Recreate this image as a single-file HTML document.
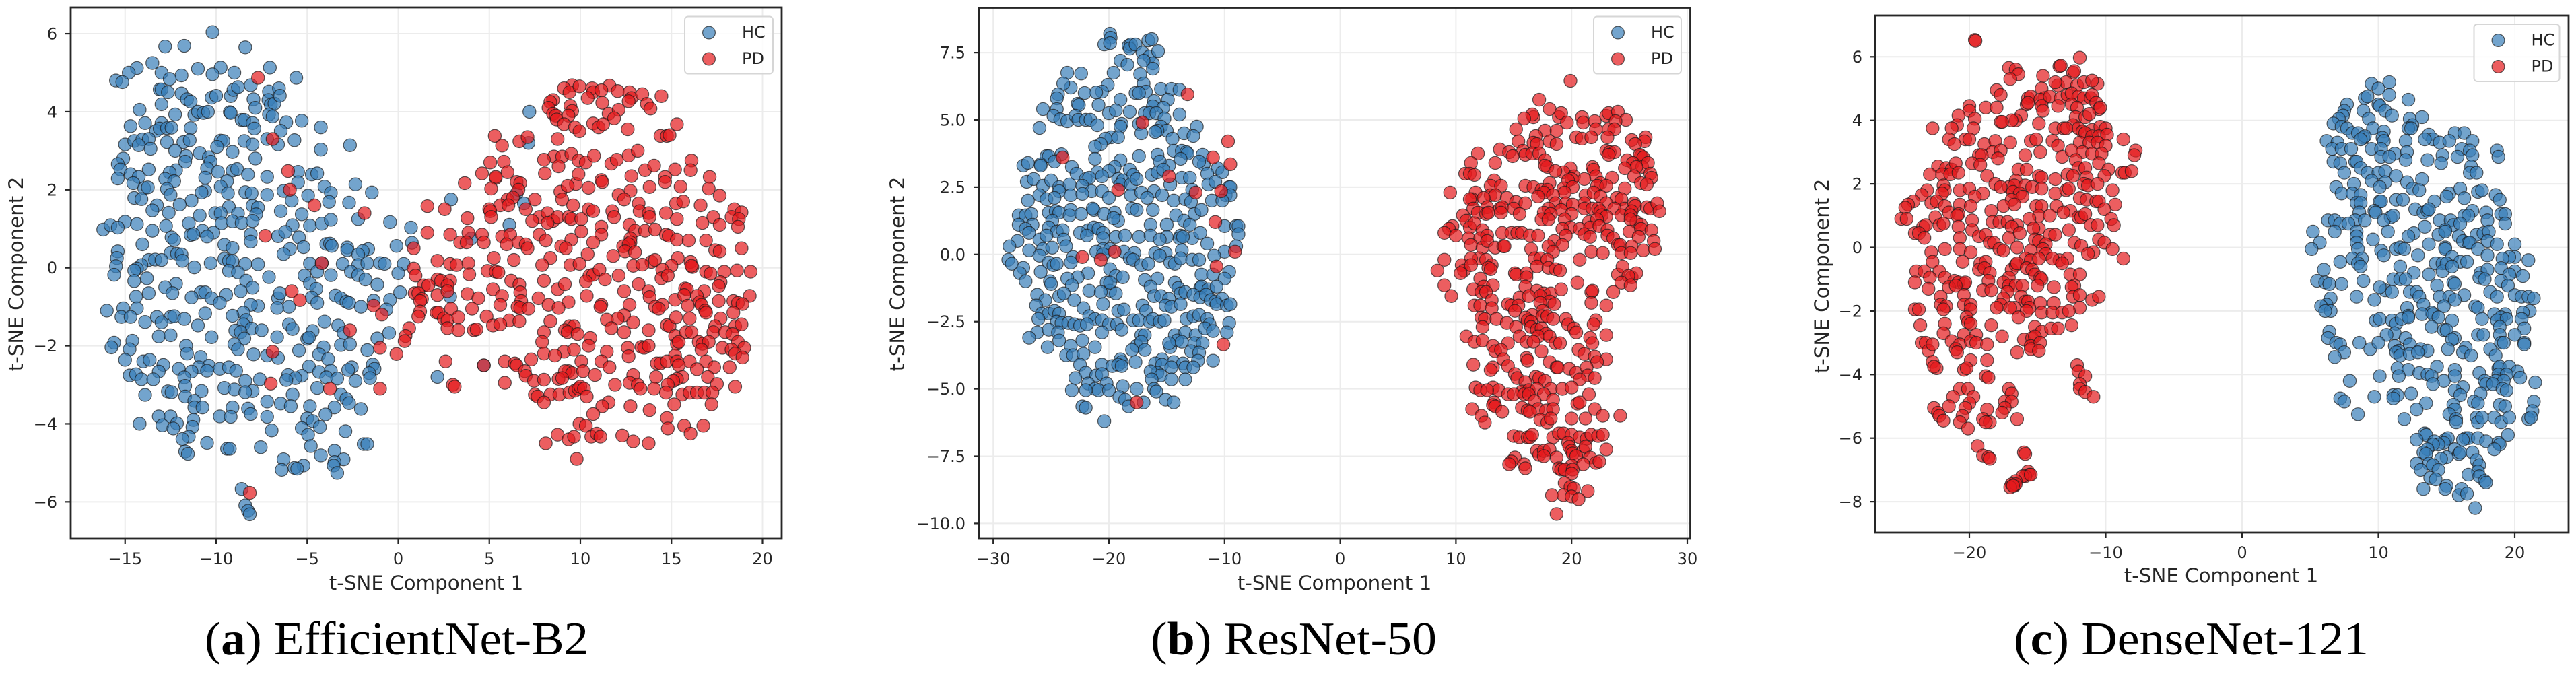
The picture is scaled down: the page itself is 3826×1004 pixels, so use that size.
<!DOCTYPE html>
<html lang="en">
<head>
<meta charset="utf-8">
<title>t-SNE comparison</title>
<style>
html,body{margin:0;padding:0;background:#fff;width:3826px;height:1004px;overflow:hidden}
svg{display:block}
text{font-family:"DejaVu Sans",sans-serif;fill:#262626}
.cap{font-family:"Liberation Serif",serif;fill:#000}
</style>
</head>
<body>
<svg id="fig" xmlns="http://www.w3.org/2000/svg" width="3826" height="1004" viewBox="0 0 3826 1004"></svg>
<script>
const effXTicks = [-15,-10,-5,0,5,10,15,20];
const effYTicks = [-6,-4,-2,0,2,4,6];
const effYLabels = ["−6","−4","−2","0","2","4","6"];
const effXLabels = ["−15","−10","−5","0","5","10","15","20"];
const resXTicks = [-30,-20,-10,0,10,20,30];
const resXLabels = ["−30","−20","−10","0","10","20","30"];
const resYTicks = [-10,-7.5,-5,-2.5,0,2.5,5,7.5];
const resYLabels = ["−10.0","−7.5","−5.0","−2.5","0.0","2.5","5.0","7.5"];
const denXTicks = [-20,-10,0,10,20];
const denXLabels = ["−20","−10","0","10","20"];
const denYTicks = [-8,-6,-4,-2,0,2,4,6];
const denYLabels = ["−8","−6","−4","−2","0","2","4","6"];

const effHc = [[-10.2,6.04],[-12.8,5.67],[-11.75,5.69],[-8.4,5.65],[-13.5,5.25],[-14.35,5.12],[-14.8,5],[-15.5,4.8],[-15.15,4.76],[-13,5],[-11,5.1],[-9.75,5.13],[-10.2,4.96],[-9,5],[-7.05,5.13],[-5.6,4.87],[-11.9,4.93],[-12.55,4.84],[-13.1,4.57],[-13,4.57],[-12.65,4.5],[-11.9,4.47],[-11.6,4.32],[-11.4,4.26],[-13,4.19],[-14.2,4.05],[-12.25,3.93],[-11.2,3.92],[-11,4],[-10.7,3.97],[-10.45,4],[-10.25,4.36],[-10,4.41],[-9.2,4.4],[-9.05,4.56],[-8.8,4.63],[-8.1,4.68],[-7.95,4.32],[-7.85,4.1],[-7.1,4.52],[-7.13,4.3],[-7,4.18],[-6.8,4.21],[-6.55,4.6],[-6.5,4.41],[-7.1,3.93],[-6.9,3.88],[-6.15,3.73],[-5.3,3.77],[-4.25,3.6],[-6.45,3.51],[-9.25,3.99],[-9.2,3.97],[-8.6,3.79],[-8.45,3.79],[-8,3.71],[-7.9,3.57],[-11.4,3.58],[-14.7,3.63],[-13.9,3.71],[-13,3.71],[-13.3,3.51],[-13.1,3.57],[-12.7,3.58],[-12.45,3.59],[-12.7,3.22],[-15,3.16],[-14.5,3.25],[-14.05,3.29],[-13.7,3.3],[-14.25,3.14],[-13.6,3.05],[-11.8,3.22],[-11.45,3.27],[-12.25,3],[-9.75,3.26],[-9.6,3.25],[-9.95,3.1],[-8.45,3.25],[-8,3.16],[-7.2,3.3],[-6.6,3.16],[-5.7,3.27],[-4.25,3.03],[-2.65,3.14],[-9.1,2.97],[-10.9,2.94],[-11.65,2.86],[-11.7,2.72],[-10.4,2.83],[-10.3,2.72],[-7.85,2.8],[-15.1,2.8],[-15.4,2.66],[-15.25,2.52],[-13.7,2.52],[-12.2,2.5],[-12.55,2.44],[-10.5,2.55],[-9.9,2.46],[-9.1,2.49],[-8.85,2.53],[-5.5,2.46],[-4.75,2.39],[-4.45,2.42],[-7.2,2.33],[-8.25,2.39],[-10.6,2.31],[-15.4,2.29],[-14.7,2.4],[-14.25,2.33],[-14.55,2.17],[-12.8,2.28],[-12.3,2.22],[-9.4,2.22],[-5.5,2.19],[-2.35,2.14],[-4.05,2.08],[-9.75,2.08],[-13.95,2.04],[-13.75,2.06],[-12.7,2.02],[-10.6,1.97],[-10.8,1.93],[-9.35,1.91],[-8.4,1.94],[-8.05,1.91],[-6.3,1.97],[-3.7,1.92],[-1.45,1.93],[-12.5,1.87],[-7.2,1.87],[-14.5,1.79],[-14.1,1.76],[-11.35,1.72],[-5.85,1.72],[-4.95,1.85],[-3.8,1.69],[-2.7,1.67],[-13.25,1.6],[-12,1.62],[-9.3,1.56],[-8,1.59],[-7.7,1.54],[-13.5,1.47],[-12.6,1.41],[-10.9,1.34],[-10.05,1.4],[-9.75,1.4],[-8.8,1.39],[-7.8,1.37],[-6.45,1.45],[-5.3,1.37],[-15,1.18],[-14.35,1.12],[-11.5,1.14],[-9.7,1.14],[-9.1,1.19],[-8.6,1.15],[-8,1.2],[-5.8,1.09],[-4.85,1.08],[-4.2,1.13],[-3.7,1.23],[-2.2,1.25],[-0.45,1.17],[0.7,1.03],[-16.2,0.98],[-15.8,1.09],[-15.4,1.03],[-12.75,1.07],[-13.5,0.95],[-10.75,0.95],[-10.15,0.9],[-11.4,0.84],[-11.25,0.86],[-10.5,0.8],[-8.1,0.86],[-6.6,0.81],[-6.2,0.92],[-5.45,0.78],[-12.45,0.78],[-12.3,0.71],[-8.1,0.67],[-9.55,0.59],[-9.1,0.51],[-14.05,0.6],[-5.2,0.53],[-3.95,0.61],[-3.75,0.62],[-3.65,0.56],[-2.8,0.52],[-0.1,0.56],[0.75,0.64],[-2.8,0.45],[-1.65,0.48],[-1.95,0.43],[-5.95,0.48],[-6.3,0.35],[-15.4,0.42],[-2.2,0.34],[-12.5,0.38],[-12.15,0.36],[-11.9,0.34],[-15.45,0.25],[-13.7,0.2],[-13.35,0.21],[-13,0.2],[-11.85,0.18],[-9.55,0.23],[-9.3,0.18],[-9.1,0.17],[-10.3,0.12],[-8.4,0.1],[-7.7,0.09],[-4.85,0.11],[-4.2,0.12],[-3.05,0.1],[-2.2,0.07],[-1.7,0.12],[-1,0.12],[-0.75,0.1],[0.3,0.1],[-15.5,0.04],[-14.1,0.07],[-11.2,0.01],[-14.35,-0.02],[-14.5,-0.07],[-15.6,-0.18],[-9.3,-0.08],[-8.8,-0.12],[-4.45,-0.1],[-5.15,-0.2],[-3.7,-0.19],[-2.6,-0.1],[-2.2,-0.19],[0,-0.14],[-7.1,-0.24],[-13.8,-0.27],[-14.5,-0.34],[-8.35,-0.33],[-4.85,-0.4],[-1.8,-0.3],[-1.15,-0.43],[-12.2,-0.41],[-12.8,-0.5],[-8,-0.51],[-4.5,-0.54],[-8.65,-0.6],[-12.4,-0.65],[-10.85,-0.63],[-10.6,-0.63],[-9.45,-0.69],[-13.7,-0.65],[-14.4,-0.74],[-11.35,-0.76],[-10.25,-0.78],[-6.6,-0.78],[-6.5,-0.65],[-4.75,-0.76],[-3.45,-0.71],[-3.15,-0.78],[-2.85,-0.87],[-4.45,-0.9],[-2.7,-0.9],[-1.35,-0.84],[-0.45,-0.82],[0.1,-0.63],[2.85,-0.74],[-9.8,-0.9],[-7.7,-0.98],[-8.1,-0.95],[-6,-1],[-6.65,-1.03],[-2.05,-1],[-0.65,-1.07],[-16,-1.1],[-15.1,-1.04],[-14.35,-1.04],[-15.2,-1.26],[-14.7,-1.26],[-10.6,-1.17],[-8.5,-1.15],[-13.25,-1.26],[-12.5,-1.26],[-12.3,-1.24],[-11.75,-1.31],[-9.1,-1.23],[-8.35,-1.34],[-13,-1.4],[-13.9,-1.39],[-4.05,-1.38],[-6,-1.45],[-11,-1.48],[-8.5,-1.45],[-8.05,-1.56],[-5.8,-1.57],[-3.3,-1.48],[-8.95,-1.61],[-8.65,-1.65],[-7.5,-1.6],[-4.7,-1.62],[-13.15,-1.76],[-12.5,-1.73],[-10.25,-1.78],[-6.65,-1.78],[-3,-1.67],[-1.15,-1.81],[-0.5,-1.67],[-8.45,-1.81],[-5,-1.82],[-4.9,-1.79],[-14.6,-1.87],[-15.6,-1.92],[-15.75,-2.04],[-11.65,-2],[-9,-1.96],[-3.15,-1.98],[-2.65,-1.96],[-4.1,-2.04],[-8.8,-2.09],[-5.45,-2.12],[-1.7,-2.11],[-14.75,-2.09],[-11.6,-2.2],[-7.95,-2.22],[-4.35,-2.22],[-7.2,-2.25],[-6.6,-2.31],[-15,-2.36],[-10.85,-2.29],[-14,-2.4],[-13.65,-2.36],[-3.85,-2.34],[-12.9,-2.49],[-10.4,-2.51],[-10.95,-2.55],[-9.8,-2.59],[-9.3,-2.55],[-12.05,-2.59],[-4.9,-2.53],[-1.4,-2.48],[-2.55,-2.55],[-8.9,-2.64],[-11.35,-2.66],[-10.5,-2.64],[-4.35,-2.67],[-3.7,-2.64],[-2.75,-2.62],[-1.3,-2.59],[-13.15,-2.66],[-1.6,-2.7],[-14.75,-2.76],[-14.4,-2.73],[-11.75,-2.81],[-6.05,-2.75],[-5.3,-2.77],[-5.65,-2.83],[-14.1,-2.86],[-13.45,-2.86],[-7.6,-2.86],[-3.95,-2.81],[-3.35,-2.84],[-1.55,-2.83],[-8.4,-2.9],[-2.35,-2.9],[-6.15,-2.88],[-11.7,-3.03],[-9.55,-3.08],[-9,-3.12],[-10.8,-3.16],[-8,-3.16],[-4.45,-3.08],[-12.65,-3.17],[-12.45,-3.19],[-8.4,-3.19],[-13.9,-3.26],[-5.8,-3.25],[-3.15,-3.25],[-11.7,-3.3],[-2.85,-3.36],[-2.7,-3.47],[-11.2,-3.41],[-7.2,-3.43],[-6.45,-3.48],[-5.9,-3.55],[-11.2,-3.58],[-10.75,-3.58],[-9.1,-3.58],[-8.25,-3.61],[-4.85,-3.55],[-3.5,-3.58],[-2.05,-3.62],[-8.1,-3.75],[-4,-3.76],[-13.15,-3.81],[-12.5,-3.81],[-9.8,-3.81],[-9.2,-3.82],[-7.2,-3.82],[-5,-3.86],[-11.25,-3.9],[-4.7,-3.93],[-14.2,-4],[-12.15,-3.99],[-12.95,-4.04],[-12.35,-4.12],[-11.3,-4.08],[-5.3,-4.11],[-4.3,-4.08],[-6.95,-4.17],[-2.9,-4.19],[-4.95,-4.28],[-11.5,-4.33],[-11.85,-4.39],[-10.5,-4.49],[-1.9,-4.52],[-1.7,-4.52],[-4.8,-4.57],[-7.55,-4.6],[-9.4,-4.64],[-9.25,-4.64],[-3.5,-4.69],[-11.7,-4.71],[-11.55,-4.77],[-4.25,-4.81],[-6.3,-4.91],[-3,-4.91],[-3.5,-4.98],[-5.2,-5.07],[-3.55,-5.07],[-5.7,-5.13],[-5.55,-5.15],[-6.4,-5.18],[-3.35,-5.26],[-8.6,-5.67],[-8.4,-6.09],[-8.25,-6.23],[-8.15,-6.32],[7.2,4],[7.15,3.2],[2.9,1.75],[6.5,1.9],[6.9,1.65],[6.1,1.1],[4,0.75],[2.15,-2.8],[4.7,-2.5]];

const effPd = [[-7.7,4.87],[-6.9,3.3],[-6.05,2.48],[-5.95,2],[-4.6,1.6],[-1.85,1.4],[-7.3,0.82],[-4.2,0.12],[-5.85,-0.6],[-5.4,-0.83],[-2.65,-1.6],[-6.9,-2.15],[-7,-2.97],[-3.75,-3.1],[-1,-3.1],[-8.15,-5.77],[-1.35,-0.97],[-0.9,-1.2],[-1,-2.05],[-0.1,-2.21],[9.55,4.68],[9.1,4.6],[9.4,4.5],[9.95,4.65],[10.65,4.6],[10.7,4.5],[11.6,4.67],[11.15,4.55],[12.05,4.53],[12.7,4.5],[12.8,4.35],[13.4,4.45],[12.65,4.27],[10.4,4.35],[14.45,4.4],[8.5,4.3],[8.35,4.25],[8.25,4.1],[8.5,3.95],[8.65,3.9],[8.7,3.8],[9.45,4.15],[9.55,4.02],[9.35,3.9],[11.2,4.23],[11.55,3.95],[12.1,4.05],[13.65,4.2],[13.85,4.08],[11.85,3.83],[9.1,3.68],[9.7,3.6],[9.95,3.5],[10.7,3.7],[11,3.6],[11.25,3.68],[12.6,3.55],[15.3,3.68],[14.4,3.38],[14.75,3.38],[14.9,3.4],[5.3,3.38],[5.7,3.13],[6.65,3.24],[7.1,3.35],[8.75,3.3],[8.55,2.85],[8,2.77],[9.0,2.85],[9.5,2.92],[9.9,2.75],[10.3,2.7],[10.75,2.87],[11.7,2.67],[12,2.77],[12.65,2.88],[13.15,3],[8.8,2.6],[5.05,2.7],[5.8,2.72],[6,2.45],[4.6,2.42],[8.05,2.42],[13.55,2.5],[14.05,2.62],[15.2,2.52],[16.1,2.75],[16.05,2.5],[14.65,2.33],[14.65,2.2],[5.35,2.3],[5.35,2.33],[3.65,2.17],[6.5,2.2],[6.7,2.17],[9.75,2.15],[9.9,2.4],[10.45,2.05],[11.15,2.25],[11.2,2.2],[12.8,2.35],[13.8,2.07],[15.5,2.08],[17.1,2.33],[17.05,2.03],[5.1,2.03],[6.6,2.0],[8.9,1.95],[9.3,2.1],[12.75,1.97],[12.1,1.87],[12.4,1.75],[7.5,1.75],[6.0,1.75],[6.3,1.8],[5.6,1.6],[6.05,1.6],[9,1.75],[9.6,1.6],[13.2,1.65],[13.25,1.45],[15.25,1.65],[15.65,1.7],[16.6,1.6],[17.65,1.85],[1.6,1.58],[2.55,1.5],[5,1.5],[5.05,1.45],[5.1,1.3],[7.0,1.5],[7.75,1.3],[8.2,1.4],[8.5,1.2],[8.75,1.3],[9.35,1.3],[9.5,1.25],[10.05,1.25],[10.45,1.5],[10.7,1.45],[11.75,1.45],[11.85,1.3],[13.75,1.4],[13.8,1.3],[14.7,1.4],[15.3,1.25],[17.3,1.3],[18.45,1.5],[18.3,1.3],[18.85,1.42],[18.7,1.25],[3.8,1.27],[7.35,1.2],[8.2,1.15],[11.15,1.05],[12.7,1.1],[13,0.95],[13.55,0.95],[14.1,0.98],[16.7,1.15],[17.65,1.1],[18.65,1.05],[1.6,0.9],[2.85,0.85],[3.85,0.9],[4.6,0.85],[5.7,0.8],[6.15,0.85],[7.75,0.85],[10.05,0.93],[11.15,0.85],[12.75,0.75],[12.75,0.65],[14.7,0.85],[14.85,0.82],[15.3,0.72],[15.95,0.7],[16.9,0.7],[3.4,0.65],[3.75,0.65],[4.7,0.65],[5.95,0.6],[6.6,0.65],[7,0.6],[8.1,0.7],[9.5,0.72],[10.7,0.65],[12.35,0.55],[12.65,0.6],[8.95,0.55],[9.2,0.5],[7.1,0.5],[0.85,0.5],[17.4,0.45],[17.65,0.42],[18.85,0.5],[12.45,0.42],[10.4,0.35],[11.8,0.3],[13,0.4],[8.35,0.25],[5.25,0.25],[6.35,0.2],[15.35,0.25],[13.9,0.15],[14.1,0.2],[16.05,0.15],[2.15,0.18],[2.85,0.1],[3.2,0.07],[3.85,0.12],[7.9,0.07],[9.45,0.07],[9.95,0.1],[12.9,0.05],[13.4,0.08],[15,0.05],[16.15,0.02],[16.1,0.05],[0.85,-0.02],[3.9,-0.17],[4.9,-0.08],[5.35,-0.1],[5.5,-0.12],[10.5,-0.2],[10.7,-0.18],[11.05,-0.05],[12.1,-0.2],[14.5,-0.05],[16.9,-0.1],[17.15,-0.15],[17.9,-0.1],[18.6,-0.07],[19.35,-0.1],[0.95,-0.2],[2.15,-0.3],[2.35,-0.33],[2.85,-0.33],[6.2,-0.33],[8.0,-0.33],[8.75,-0.55],[9.15,-0.42],[10.3,-0.35],[11.35,-0.3],[13.2,-0.42],[14.45,-0.27],[14.8,-0.2],[17.7,-0.37],[1.4,-0.45],[1.65,-0.45],[2.7,-0.45],[5.2,-0.55],[6.65,-0.43],[0.9,-0.65],[1.1,-0.65],[1.3,-0.8],[2.15,-0.7],[3.8,-0.67],[6.7,-0.63],[12.4,-0.6],[13.75,-0.6],[15.75,-0.53],[15.85,-0.55],[17.6,-0.47],[16.8,-0.6],[1.2,-0.85],[2.7,-0.6],[4.4,-0.78],[5.7,-0.72],[6.75,-0.85],[7.7,-0.78],[8.25,-0.95],[9.35,-0.88],[10.35,-0.72],[13.8,-0.75],[14.5,-0.95],[15.2,-0.82],[15.7,-0.7],[16.4,-0.72],[16.55,-0.88],[17.6,-0.85],[18.4,-0.85],[18.65,-0.9],[19.3,-0.72],[18.9,-0.93],[16.65,-0.95],[5.6,-0.95],[8.8,-1.03],[11.15,-0.95],[11.1,-1],[12.7,-0.95],[14.1,-1],[14.3,-1.05],[15.9,-0.97],[16.85,-1.1],[2.9,-1.05],[4.05,-1.05],[6.55,-1],[6.7,-1.03],[7.15,-1.05],[1.2,-1.12],[1.1,-1.25],[2.1,-1.15],[2.2,-1.15],[4.85,-1.25],[12.4,-1.22],[16.9,-1.15],[18.4,-1.15],[12.05,-1.3],[2.5,-1.3],[2.7,-1.35],[3.3,-1.27],[5.2,-1.48],[6.1,-1.35],[6.65,-1.37],[8.35,-1.37],[9.4,-1.5],[9.65,-1.5],[11.45,-1.33],[12.9,-1.4],[14.75,-1.47],[14.9,-1.5],[15.25,-1.27],[16,-1.3],[17.7,-1.3],[18.5,-1.5],[18.85,-1.45],[17.4,-1.5],[0.6,-1.55],[2.7,-1.55],[3.3,-1.6],[4.15,-1.6],[4.3,-1.58],[5.6,-1.45],[8,-1.65],[9.15,-1.6],[9.3,-1.65],[9.85,-1.7],[11.7,-1.55],[12.4,-1.65],[13.75,-1.6],[15.2,-1.75],[15.8,-1.65],[16.1,-1.65],[17.3,-1.65],[17.95,-1.65],[18.35,-1.7],[0.4,-1.75],[0.35,-1.88],[7.9,-1.9],[10.55,-1.8],[15.3,-1.95],[15.4,-1.9],[16.5,-1.9],[16.7,-1.95],[17.05,-1.9],[18.65,-1.9],[17.8,-2.05],[19.0,-2.05],[10.45,-2.0],[12.6,-2.05],[13.35,-2.03],[13.5,-2.05],[13.75,-2],[16.65,-2.1],[18.3,-2.1],[8,-2.2],[9.1,-2.15],[9.65,-2.1],[11.45,-2.15],[12.65,-2.27],[15.2,-2.25],[18.5,-2.2],[18.9,-2.3],[2.6,-2.4],[5.85,-2.4],[6.4,-2.45],[7.3,-2.35],[8.6,-2.25],[10.05,-2.4],[11.15,-2.4],[14.2,-2.45],[14.4,-2.45],[14.75,-2.4],[15.3,-2.4],[16,-2.4],[16.9,-2.4],[4.7,-2.5],[6.5,-2.5],[9.35,-2.65],[11.6,-2.55],[15.4,-2.5],[18.2,-2.55],[17.35,-2.55],[16.4,-2.6],[6.95,-2.65],[9.15,-2.65],[9.55,-2.7],[12.9,-2.75],[7,-2.77],[7.45,-2.9],[8,-2.87],[8.8,-2.85],[9,-2.83],[10.15,-2.65],[10.8,-2.75],[14.15,-2.8],[15.6,-2.8],[15.3,-2.85],[15.1,-2.9],[17,-2.8],[5.85,-2.95],[3,-3],[3.1,-3.05],[11.9,-3],[12.7,-2.95],[13.15,-3],[14.8,-3],[17.5,-2.98],[18.5,-3.05],[7.5,-3.25],[7.65,-3.3],[8.35,-3.25],[8.85,-3.25],[9.4,-3.2],[9.7,-3.15],[9.9,-3.1],[10,-3.05],[10.2,-3.1],[10.35,-3.3],[13.3,-3.1],[14.05,-3.1],[14.7,-3.2],[15.6,-3.25],[16,-3.2],[16.4,-3.2],[16.8,-3.2],[17.25,-3.2],[8,-3.45],[11.55,-3.45],[11.2,-3.55],[12.75,-3.55],[15.15,-3.5],[17.2,-3.5],[10.7,-3.75],[13.8,-3.65],[14.75,-3.85],[9.95,-4],[15.7,-4.05],[16.75,-4.05],[14.8,-4.12],[10.3,-4.05],[16.05,-4.25],[10.6,-4.33],[10.9,-4.25],[11.1,-4.33],[8.1,-4.5],[8.75,-4.28],[9.35,-4.4],[9.65,-4.33],[12.3,-4.3],[12.9,-4.45],[13.75,-4.5],[9.8,-4.9]];

const resHc = [[-19.9,8.2],[-19.85,8.05],[-20.4,7.8],[-19.9,7.85],[-18.3,7.75],[-18.1,7.8],[-18.2,7.65],[-17.7,7.8],[-16.6,7.95],[-16.3,8],[-17.1,7.5],[-16.5,7.35],[-15.75,7.55],[-16.2,7.1],[-17,7.2],[-16.2,6.9],[-19,7.2],[-18.4,7.05],[-23.6,6.75],[-22.4,6.72],[-19.6,6.75],[-17.3,6.7],[-17,6.35],[-16.8,6.05],[-15.5,6.15],[-14.6,6.15],[-13.9,6.12],[-17.7,6],[-17.4,6],[-20.1,6.3],[-20.6,6.05],[-21.1,6.02],[-22.1,6],[-23.3,6.2],[-23.95,6.35],[-24.4,5.95],[-24.5,5.8],[-19,5.75],[-16.1,5.7],[-16.2,5.5],[-14.9,5.75],[-15.3,5.45],[-22.7,5.6],[-22.6,5.55],[-20.9,5.55],[-25.7,5.4],[-24.5,5.4],[-18.2,5.3],[-20,5.25],[-19.4,5.35],[-16.9,5.25],[-16.5,5.25],[-15.9,5.25],[-13.9,5.2],[-15.2,5.05],[-24.8,5.15],[-24.2,5.02],[-23.6,4.95],[-22.9,5.15],[-22.65,5],[-22,5],[-21.6,5],[-21,4.8],[-18.9,4.85],[-19,4.75],[-17.4,4.85],[-15.5,4.75],[-15,4.6],[-15.8,4.6],[-12.4,4.75],[-26,4.7],[-17.2,4.5],[-16,4.55],[-13.5,4.5],[-12.7,4.4],[-14.5,4.3],[-19.8,4.35],[-19.2,4.35],[-20.3,4.3],[-20.7,4.1],[-21.2,4],[-14.4,3.85],[-13.7,3.85],[-13.3,3.8],[-13.2,3.75],[-25.4,3.65],[-25.2,3.65],[-24.1,3.72],[-17.4,3.65],[-15.8,3.7],[-14.8,3.3],[-15.6,3.45],[-11.9,3.7],[-21.2,3.55],[-19,3.5],[-13.8,3.55],[-11.8,3.35],[-12.2,3.45],[-25.9,3.35],[-27.4,3.3],[-27,3.4],[-25.9,3.3],[-24.7,3.45],[-23.2,3.25],[-22.8,3],[-21,3.05],[-19.5,3.25],[-20,3.1],[-18.2,3.15],[-17.9,2.95],[-16.3,2.95],[-15.8,3.05],[-15.3,3.15],[-13.7,2.85],[-13,2.85],[-10.6,3.2],[-10.2,3.05],[-11.5,3],[-22,2.8],[-21.7,2.85],[-20.6,2.9],[-19.2,2.8],[-18.8,2.75],[-27.1,2.7],[-26.5,2.8],[-25.7,2.55],[-25,2.75],[-24.3,2.5],[-23.4,2.6],[-24.3,2.35],[-22.3,2.55],[-19,2.6],[-18.1,2.6],[-17.6,2.8],[-14.7,2.6],[-11.4,2.6],[-10.8,2.7],[-9.6,2.5],[-9.5,2.5],[-21.5,2.35],[-20.6,2.35],[-18.1,2.2],[-17.2,2.3],[-16.1,2.35],[-15.4,2.2],[-12.8,2.4],[-9.9,2.2],[-9.5,2.2],[-26,2.2],[-25.4,2.05],[-24.7,2.1],[-23.3,2.2],[-22.3,2.25],[-20,2.1],[-16.7,2.1],[-14.4,2],[-13.4,2.05],[-12.9,1.95],[-11.1,2],[-10.2,2],[-27,2],[-19.5,1.55],[-18,1.7],[-17.6,1.65],[-16.2,1.65],[-14.2,1.45],[-12.6,1.5],[-12,1.65],[-27.8,1.45],[-27.2,1.45],[-26.7,1.5],[-25.2,1.55],[-24.6,1.6],[-24.3,1.55],[-23.3,1.65],[-23.4,1.45],[-22.4,1.5],[-21.3,1.65],[-21.4,1.7],[-26.6,1.1],[-24.9,1.25],[-19.2,1.25],[-20.4,1.5],[-19.6,1.35],[-13.5,1.25],[-15,1.1],[-16.4,1.1],[-13,1.1],[-10,1.05],[-9,1.05],[-8.8,1.05],[-27.8,1.1],[-27.2,0.95],[-26.9,0.8],[-25.2,1],[-24.5,0.85],[-24,0.9],[-21.8,0.9],[-21.3,1],[-22.5,0.8],[-20.9,0.95],[-20.5,0.8],[-15,0.65],[-13.8,0.7],[-12.8,0.6],[-12.1,0.8],[-8.8,0.75],[-27.9,0.5],[-26,0.55],[-25.4,0.7],[-23.9,0.55],[-21.9,0.7],[-20.5,0.6],[-19.4,0.65],[-18.6,0.7],[-17.4,0.65],[-16.4,0.7],[-15.6,0.55],[-13.9,0.6],[-13.6,0.65],[-11.5,0.4],[-28.6,0.3],[-26.9,0.15],[-25.7,0.2],[-24.9,0.25],[-23.7,0.3],[-20.5,0.2],[-19.9,0.2],[-21.1,0.1],[-18.7,0.1],[-17.8,0.05],[-16,0.05],[-15.1,0.05],[-13.7,0.15],[-10,0.1],[-9,0.3],[-28.7,-0.2],[-28.4,-0.35],[-26,-0.05],[-25.2,-0.3],[-24.8,-0.4],[-24.5,-0.35],[-23.1,-0.1],[-23.3,-0.3],[-20.5,0],[-18.2,-0.15],[-17.9,-0.2],[-17.2,-0.4],[-16.6,-0.35],[-15.6,-0.05],[-14.7,-0.3],[-14.3,-0.35],[-13.8,-0.15],[-12.8,-0.2],[-12.2,-0.2],[-10.9,-0.05],[-27.4,-0.5],[-27.7,-0.7],[-25.9,-0.65],[-21.8,-0.7],[-22.7,-0.85],[-19.9,-0.55],[-19.4,-0.8],[-18.8,-0.85],[-16.9,-0.95],[-15.8,-0.9],[-12,-0.75],[-11,-0.75],[-9.6,-0.65],[-10,-0.9],[-27.2,-1],[-25.1,-1],[-25,-1.1],[-23.6,-0.9],[-23.2,-1.15],[-20.2,-1.05],[-19.9,-1.35],[-19.9,-1.05],[-16.4,-1.2],[-14.3,-1.05],[-14,-1.25],[-12.1,-1.25],[-12,-1.2],[-11.4,-1.3],[-10.7,-1.2],[-26.2,-1.5],[-25.5,-1.7],[-24.3,-1.55],[-23.9,-1.45],[-23,-1.7],[-21.7,-1.35],[-20.7,-1.4],[-19.4,-1.45],[-16.1,-1.55],[-15.5,-1.55],[-13.8,-1.45],[-13.4,-1.4],[-12.7,-1.5],[-12.1,-1.6],[-11.6,-1.5],[-11.2,-1.7],[-10.8,-1.75],[-10.2,-1.65],[-14.8,-1.65],[-15.1,-1.9],[-26.3,-1.9],[-25.8,-2.2],[-25.2,-2.2],[-24.7,-2.1],[-24.3,-2.2],[-22.2,-2],[-20.5,-1.85],[-19.2,-2.1],[-18.7,-2.05],[-17.1,-1.9],[-16.8,-2.1],[-14.6,-1.95],[-13.8,-1.85],[-10.7,-1.85],[-9.8,-1.9],[-9.5,-1.85],[-21.7,-2.3],[-21.2,-2.4],[-20.6,-2.45],[-20,-2.6],[-26.1,-2.4],[-24.5,-2.5],[-24.1,-2.55],[-23.5,-2.55],[-23,-2.6],[-22.5,-2.65],[-21.9,-2.6],[-19.3,-2.6],[-18.9,-2.8],[-17.9,-2.45],[-17.4,-2.45],[-16.5,-2.5],[-16.2,-2.4],[-15.6,-2.5],[-15.2,-2.45],[-13.3,-2.4],[-12.7,-2.3],[-12.2,-2.25],[-11.5,-2.4],[-11.3,-2.6],[-9.6,-2.55],[-26.2,-2.9],[-25.2,-2.8],[-24.4,-2.9],[-26.9,-3.1],[-24.3,-3.2],[-20.6,-2.9],[-17.2,-3],[-16.9,-3],[-14.3,-3],[-13.4,-2.9],[-12.5,-3],[-11.7,-2.75],[-11,-2.85],[-9.8,-2.9],[-25.3,-3.45],[-23.3,-3.4],[-22.3,-3.2],[-21.2,-3.45],[-17.6,-3.4],[-17.2,-3.25],[-14.7,-3.45],[-14.1,-3.2],[-13.7,-3.25],[-12.6,-3.3],[-11.9,-3.3],[-23.7,-3.75],[-23.1,-3.75],[-22.2,-3.7],[-18,-3.55],[-16.9,-3.55],[-14.8,-3.3],[-12.9,-3.6],[-12.2,-3.65],[-15.4,-3.9],[-19,-3.9],[-18.9,-4],[-17.7,-4],[-16,-4.05],[-15.4,-4.1],[-14.4,-4],[-13.6,-4.05],[-12.3,-3.95],[-11,-3.95],[-20.6,-4.1],[-19.7,-4.15],[-19.2,-4.1],[-18.9,-4.15],[-22.5,-4.1],[-22,-4.4],[-21.1,-4.5],[-20.6,-4.45],[-15.8,-4.4],[-16.4,-4.35],[-15.5,-4.5],[-14.6,-4.2],[-13.4,-4.2],[-12.7,-4.2],[-16.3,-4.65],[-22.9,-4.6],[-20.2,-4.8],[-18.8,-4.9],[-21.8,-4.8],[-21.2,-5],[-20.9,-5.05],[-20,-5.05],[-17.6,-5],[-16.1,-5],[-15.9,-5.1],[-14.6,-4.65],[-13.4,-4.65],[-23.2,-5.05],[-22,-5.05],[-19.1,-5.3],[-18.6,-5.4],[-17,-5.5],[-15.1,-5.4],[-14.4,-5.5],[-22.3,-5.65],[-22,-5.7],[-18.3,-5.65],[-20.4,-6.2]];

const resPd = [[-13.2,5.95],[-17.1,4.9],[-9.7,4.2],[-24,3.6],[-11,3.6],[-9.5,3.35],[-14.8,2.9],[-19.2,2.4],[-12.5,2.3],[-10.3,2.35],[-10.8,1.2],[-19.5,0.1],[-22.3,-0.1],[-20.7,-0.2],[-9.1,0.1],[-10.7,-0.45],[-10.1,-3.35],[-17.6,-5.5],[19.9,6.45],[17.2,5.75],[18.1,5.4],[16.7,5.1],[16.6,5.2],[15.9,5.05],[18.9,5.1],[19.1,5.25],[20.9,5.1],[21,4.9],[23,5.15],[23.2,5.25],[24,5.3],[24.7,5],[22,4.95],[23.8,4.95],[19.6,4.9],[15.2,4.65],[17.7,4.6],[18.7,4.6],[22.1,4.65],[23.2,4.65],[23.7,4.65],[23.1,4.35],[26.4,4.35],[26.3,4.2],[25.2,4.25],[20.4,4.35],[20.9,4.3],[21.7,4.35],[16.9,4.4],[16.7,4.15],[15.4,4.2],[18.1,4.2],[18.7,4.1],[17,4.1],[25.5,4.1],[26,3.65],[24.8,3.5],[23,3.85],[23.3,3.8],[23.7,3.8],[13.8,3.9],[14.6,3.8],[15.8,3.85],[16,3.7],[16.6,3.75],[17.2,3.75],[14.9,3.65],[23.2,3.7],[25.9,3.7],[26.2,3.6],[11.9,3.75],[11.3,3.4],[13.4,3.4],[17.7,3.5],[17.9,3.25],[17.7,3.3],[25.3,3.4],[26.1,3.25],[26.6,3.4],[25.6,3.25],[24.6,3.2],[21.8,3.25],[21.9,3.15],[19.9,3.2],[19.3,3.05],[18.6,3.1],[10.8,3],[11.2,3],[11.6,2.95],[25.4,2.9],[26.8,3],[26.9,2.85],[20.2,2.9],[22.1,2.9],[23.5,2.85],[20,2.8],[19.7,2.75],[21.1,2.8],[13.3,2.75],[13,2.55],[18.1,2.65],[13.9,2.55],[22.5,2.65],[26,2.65],[26.5,2.6],[16,2.55],[16.7,2.5],[17.4,2.4],[17.9,2.4],[19.3,2.45],[20.1,2.5],[22.2,2.55],[23,2.55],[24.6,2.45],[9.5,2.3],[11.7,2.3],[13,2.2],[13.4,2.2],[17.6,2.3],[19.4,2.3],[21.2,2.2],[21.9,2.3],[22.5,2.15],[17.1,2.15],[14.4,2.1],[11.4,2.05],[11.2,2.05],[12.4,2.1],[15.2,1.95],[18.4,2.2],[23.9,2.1],[24.3,2.05],[16,1.9],[18.6,1.9],[19.5,1.9],[20.1,1.85],[21.1,1.9],[23,1.9],[24.6,1.7],[25.4,1.9],[25.5,1.8],[26.5,1.75],[26.8,1.7],[27.4,1.9],[11.5,1.7],[12.7,1.75],[13.8,1.7],[14,1.75],[15,1.7],[18,1.7],[19.1,1.65],[21.1,1.7],[21.8,1.7],[22.3,1.7],[22.5,1.6],[23.7,1.7],[25.2,1.6],[27.6,1.6],[11.9,1.55],[12.6,1.5],[12.8,1.55],[13.9,1.55],[15.5,1.5],[17.6,1.55],[18.2,1.5],[20,1.5],[22.6,1.45],[23,1.4],[24.3,1.45],[25.1,1.45],[25.6,1.2],[26,1.1],[10.6,1.45],[10.9,1.25],[17.4,1.3],[18,1.3],[19.4,1.3],[21.5,1.2],[22.2,1.3],[25.1,1.3],[9.7,1.05],[9.4,0.95],[11.2,1],[11.6,1.15],[12.3,0.9],[19.9,1],[19.2,0.95],[20.7,0.95],[21.6,1],[22.4,1.05],[23.1,0.9],[25,0.85],[26,0.95],[26.9,0.9],[9,0.8],[10,0.7],[11.1,0.6],[12.1,0.6],[12.7,0.7],[14,0.8],[14.8,0.8],[15.3,0.8],[15.7,0.8],[16.4,0.7],[17.1,0.7],[18.5,0.5],[19.5,0.7],[21.1,0.75],[21.6,0.65],[23.1,0.7],[23.6,0.6],[25.8,0.65],[27.1,0.5],[11.3,0.35],[12.3,0.25],[12.7,0.5],[13.4,0.25],[14.1,0.3],[14.2,0.3],[16.5,0.2],[18,0.3],[19.2,0.35],[24,0.35],[24.2,0.35],[25.2,0.3],[26.2,0.15],[27.2,0.2],[21.7,0.1],[18.4,0.1],[22.7,0.05],[24.3,0.05],[25.1,0.05],[12,-0.15],[11.3,-0.15],[12.6,-0.2],[13.1,-0.4],[16.8,-0.15],[17.3,-0.15],[17.9,-0.2],[20.7,-0.2],[9,-0.2],[10.5,-0.4],[10.7,-0.6],[11.3,-0.4],[12.8,-0.5],[17,-0.45],[18,-0.5],[18.6,-0.55],[19,-0.6],[8.4,-0.6],[10.4,-0.7],[13,-0.55],[15.1,-0.7],[15.2,-0.75],[16.1,-0.7],[16.1,-0.85],[24,-0.75],[24.4,-0.45],[25.2,-0.85],[25.6,-0.7],[24.9,-0.8],[12.1,-0.9],[12.4,-1.2],[9,-1.15],[13.2,-1.15],[16,-1.2],[20.5,-1.05],[24.3,-1.05],[25.1,-1.15],[11.5,-1.3],[12.2,-1.4],[12.6,-1.4],[17,-1.35],[17.6,-1.45],[18.2,-1.45],[19.1,-1.3],[21.7,-1.4],[21.8,-1.35],[23.6,-1.4],[9.6,-1.55],[15.5,-1.6],[16.3,-1.55],[17.3,-1.55],[13.1,-1.7],[18.1,-1.75],[14.5,-1.85],[14.8,-1.9],[15.4,-1.9],[17.3,-1.8],[18.5,-1.85],[21.7,-1.8],[11.6,-1.9],[12.1,-1.9],[13.1,-2],[17.5,-2.1],[23,-1.9],[15.1,-2.1],[16.6,-2.25],[17.5,-2.3],[12.2,-2.35],[12.5,-2.4],[16,-2.35],[17.9,-2.3],[18.4,-2.4],[19.5,-2.4],[13.5,-2.4],[14.4,-2.55],[16.2,-2.45],[16.5,-2.5],[22.1,-2.45],[21.9,-2.6],[19.7,-2.6],[12.3,-2.7],[15.2,-2.7],[16.5,-2.7],[17,-2.8],[17.4,-2.75],[20.2,-2.75],[20.4,-2.9],[17.8,-2.95],[23,-3],[10.9,-3.05],[15.5,-3.05],[17.1,-3.05],[18.1,-3.05],[21.6,-3.1],[11.6,-3.25],[12.3,-3.2],[13.2,-3.4],[14.5,-3.3],[16.1,-3.25],[16.7,-3.25],[18.6,-3.3],[21.8,-3.3],[19,-3.3],[13.4,-3.6],[13.9,-3.55],[14.1,-3.9],[17.4,-3.6],[20.6,-3.55],[21.1,-3.7],[16.1,-3.85],[16.2,-3.95],[22,-3.8],[23,-3.9],[11.5,-4.1],[13.2,-4.2],[14.5,-4.15],[18.1,-4],[18.7,-4.2],[18.8,-4.2],[22.2,-4],[13,-4.3],[15.1,-4.45],[16.9,-4.55],[19.8,-4.25],[20.4,-4.4],[21.3,-4.2],[21.4,-4.5],[15.3,-4.6],[16,-4.75],[17.2,-4.6],[17.7,-4.7],[20.7,-4.65],[22,-4.6],[11.7,-4.95],[12.1,-5.05],[13.2,-4.95],[13.7,-5.05],[15.7,-5.1],[16.3,-5.05],[17,-5],[18.2,-5],[19.2,-5],[20,-4.95],[12.7,-5.05],[14.5,-5.2],[15,-5.2],[15.9,-5.2],[16.3,-5.2],[17.6,-5.2],[21.5,-5.2],[13.3,-5.5],[13.2,-5.6],[16.8,-5.45],[18.4,-5.4],[20.5,-5.55],[20.7,-5.5],[11.4,-5.75],[13.4,-5.65],[15.7,-5.7],[16.2,-5.8],[17.1,-5.75],[17.8,-5.8],[18.4,-5.75],[22,-5.75],[14,-5.85],[16.4,-5.85],[12.2,-6],[12.5,-6.25],[17.3,-6.15],[17.9,-6.25],[18.2,-6.1],[20,-6.1],[21.2,-6.1],[22.7,-6],[24.2,-6],[15,-6.75],[15.5,-6.8],[16.2,-6.8],[16.4,-6.8],[16.6,-6.7],[18.4,-6.8],[18.9,-6.65],[19.3,-6.65],[20,-6.7],[20.7,-6.8],[21.3,-6.85],[21.7,-6.7],[22.3,-6.75],[22.7,-6.7],[19.7,-7],[19.8,-7.15],[17,-7.3],[17.2,-7.45],[17.6,-7.3],[18.1,-7.25],[20,-7.3],[20.1,-7.4],[21,-7.3],[21.2,-7.15],[23,-7.25],[15.1,-7.55],[14.8,-7.7],[14.6,-7.8],[17.6,-7.5],[18.7,-7.55],[20.4,-7.5],[21.6,-7.55],[22.1,-7.75],[22.4,-7.7],[20,-7.85],[21,-7.8],[15.9,-7.8],[16,-7.95],[18.9,-7.95],[19.1,-8],[19.4,-8],[20.1,-8],[20,-8.15],[19.4,-8.5],[19.9,-8.65],[20.2,-8.7],[21.4,-8.8],[18.3,-8.95],[19.3,-8.95],[20,-9],[20.6,-9.1],[18.7,-9.65]];

const denHc = [[10.8,5.2],[9.5,5.15],[10,5],[10.8,4.8],[9,4.7],[9.2,4.75],[12.2,4.65],[7.7,4.5],[10,4.5],[10.1,4.45],[8.9,4.3],[7.5,4.3],[7.4,4.15],[7.1,4.05],[10.5,4.3],[11,4.15],[9.3,4.05],[12.3,4.05],[12.5,3.85],[13.2,4.1],[6.7,3.9],[7.3,3.8],[7.7,3.75],[8.1,3.6],[8.5,3.6],[9.6,3.75],[12.2,3.75],[12.4,3.75],[10.4,3.65],[8.9,3.45],[9,3.5],[13.7,3.55],[14,3.4],[15.6,3.6],[16.3,3.6],[6.2,3.35],[7,3.3],[8.7,3.4],[10.3,3.45],[10.4,3.35],[12,3.35],[13.4,3.4],[14.5,3.3],[15.2,3.35],[16.9,3.35],[6.6,3.1],[7.3,3.1],[8,3.1],[9.5,3.1],[10.2,3.1],[11.2,2.95],[12.1,3],[14.7,2.9],[16.1,3.1],[16.7,3.05],[16.9,2.9],[18.7,3.05],[6.7,2.7],[7.2,2.65],[8.3,2.7],[8.4,2.7],[10.2,2.85],[10.8,2.85],[12,2.75],[13.6,2.75],[14.6,2.65],[15.8,2.85],[16.8,2.55],[18.8,2.85],[7.5,2.35],[8.7,2.5],[9.2,2.35],[10,2.35],[10.5,2.4],[11.3,2.25],[12.1,2.05],[13.2,2.15],[16.7,2.35],[17.2,2.35],[9.5,2.1],[10.5,2.05],[8.2,2],[6.9,1.9],[7.3,1.7],[8.1,1.7],[8.7,1.65],[10.1,1.9],[12.5,1.85],[13,1.8],[15.2,1.7],[15,1.6],[14.1,1.45],[16,1.85],[17.3,1.75],[17.6,1.8],[18.6,1.65],[10.1,1.45],[10.2,1.45],[8.4,1.4],[8.7,1.4],[11.3,1.5],[11.8,1.5],[16.3,1.55],[18.9,1.5],[8.6,1.1],[9.7,1.15],[9.8,1.1],[10.9,0.95],[12.7,1.2],[13.3,1.1],[13.6,1.15],[13.7,1.2],[16.9,1.15],[17.9,1.1],[19,1.05],[19.3,1.05],[6.3,0.85],[6.8,0.85],[8.3,0.85],[9,0.85],[10.4,0.85],[11.1,1],[14.5,0.85],[15.3,0.85],[15.5,0.7],[16.3,1],[16.6,1],[18,0.85],[19.3,0.75],[7.2,0.75],[7.8,0.75],[14.9,0.55],[13.4,0.65],[16,0.75],[8.4,0.5],[6.8,0.5],[10.7,0.5],[12.6,0.45],[12.2,0.35],[14.4,0.4],[14.9,0.5],[15.9,0.35],[17.2,0.4],[17.7,0.45],[18.1,0.5],[5.2,0.5],[8.4,0.35],[9.6,0.25],[5.7,0.15],[8.4,0.15],[13.7,0.1],[14.9,0],[16.2,0.2],[16.6,0.15],[16.7,0.15],[18,0.2],[18.7,0.1],[20,0.1],[5.1,-0.05],[8.5,-0.05],[11.3,-0.05],[11.6,0],[11.9,-0.05],[10.2,-0.1],[10.4,-0.25],[14.9,-0.05],[17.3,-0.05],[20,-0.3],[19.6,-0.3],[19.1,-0.35],[8.1,-0.35],[8.8,-0.35],[12.9,-0.25],[15.4,-0.3],[16,-0.45],[18,-0.25],[7.2,-0.45],[8.5,-0.5],[8.7,-0.6],[14.2,-0.5],[14.7,-0.5],[15,-0.5],[16.5,-0.45],[19,-0.65],[21,-0.4],[14.7,-0.75],[15.4,-0.6],[11.6,-0.6],[20,-0.75],[6,-0.7],[12.6,-0.8],[17.5,-0.8],[18,-0.7],[19.6,-0.85],[13.7,-0.85],[11.1,-1],[11.6,-1],[12,-1],[17.4,-0.95],[17.8,-1],[20.6,-0.9],[5.5,-1.05],[6.1,-1.1],[6.4,-1.15],[7.3,-1.15],[8.9,-1.05],[10.5,-1.35],[11,-1.4],[12.3,-1.4],[14.3,-1.2],[15.5,-1.1],[15.6,-1.15],[19,-1.05],[19.5,-1.2],[18.2,-1.4],[12.8,-1.4],[10.1,-1.25],[13,-1.55],[14.5,-1.55],[15.2,-1.55],[16.3,-1.5],[18.7,-1.55],[20,-1.5],[20.5,-1.55],[21,-1.55],[21.4,-1.6],[8.4,-1.55],[9.7,-1.65],[6.5,-1.6],[13.3,-1.8],[14.8,-1.85],[15.6,-1.65],[6.2,-1.8],[5.8,-1.85],[6.5,-2],[6.1,-2],[12.1,-1.9],[13.9,-2.05],[17.1,-1.85],[17.3,-1.9],[21.1,-2],[20.6,-2.05],[19.3,-2.1],[12.2,-2.15],[13.2,-2.1],[14,-2.1],[17.6,-2.25],[18.5,-2.1],[19,-2.2],[9.8,-2.3],[10.1,-2.25],[11,-2.3],[11.3,-2.4],[11.7,-2.25],[12.2,-2.2],[14.4,-2.2],[15.4,-2.3],[18.7,-2.3],[19.4,-2.25],[20.5,-2.25],[13.9,-2.5],[14.8,-2.6],[15,-2.6],[18.9,-2.5],[20.7,-2.55],[6.4,-2.65],[11.2,-2.7],[15.6,-2.85],[17.3,-2.75],[17.7,-2.75],[18.9,-2.75],[20,-2.75],[6.3,-2.85],[6.9,-3],[8.6,-3],[10.6,-2.75],[12,-2.85],[15.4,-2.9],[19,-3],[19.2,-3],[20.7,-3],[20.7,-3.05],[7.2,-3.05],[9.4,-3.2],[10,-3],[11.2,-3.1],[11.5,-3.25],[12.3,-3.05],[13.1,-3.2],[13.6,-3.25],[15.1,-3.2],[16.4,-3.15],[18.2,-3.2],[7.5,-3.3],[6.8,-3.45],[11.3,-3.3],[11.6,-3.4],[12.3,-3.35],[12.9,-3.3],[16.2,-3.3],[16.8,-3.4],[18.6,-3.4],[14.3,-3.75],[18.8,-3.8],[18.9,-3.75],[19.6,-3.75],[11.4,-3.8],[12.2,-3.85],[13,-3.95],[13.6,-4],[15.6,-3.85],[17.4,-3.95],[20.2,-3.9],[18.8,-4],[19.4,-4],[11.5,-4.05],[10.1,-4.05],[13.9,-4.05],[14.8,-4.2],[15.6,-4.05],[20.4,-4.1],[18.6,-4.2],[19.2,-4.2],[7.9,-4.2],[17.8,-4.2],[21.5,-4.25],[14,-4.3],[17.9,-4.3],[18.4,-4.3],[19.1,-4.45],[16.2,-4.4],[19.4,-4.5],[15.6,-4.5],[12.4,-4.6],[16,-4.65],[11.1,-4.65],[11.4,-4.65],[9.7,-4.7],[11.1,-4.75],[7.2,-4.75],[7.5,-4.85],[18.9,-4.95],[19.3,-5],[17.5,-4.6],[17,-4.85],[17.3,-4.9],[21.4,-4.85],[13.5,-4.9],[15.5,-4.95],[15.6,-5.1],[12.8,-5.1],[21.3,-5.15],[15.2,-5.25],[18.5,-5.35],[19,-5.5],[19.6,-5.35],[8.5,-5.25],[11.9,-5.4],[15.7,-5.4],[15.7,-5.5],[17.2,-5.35],[17.3,-5.5],[17.6,-5.35],[21,-5.4],[21.2,-5.35],[13.4,-5.85],[13.5,-5.9],[19.5,-5.9],[12.8,-6.05],[14.9,-6.05],[15.1,-6],[16.4,-6],[16.6,-6],[17.3,-6],[17.9,-6.1],[14.1,-6.1],[14.8,-6.15],[16.2,-6.05],[14.4,-6.2],[14,-6.2],[18.8,-6.15],[18.9,-6.2],[18.5,-6.35],[13.6,-6.35],[15.6,-6.35],[15.9,-6.5],[16,-6.45],[16.9,-6.45],[13.3,-6.45],[13.5,-6.5],[15,-6.6],[14.6,-6.65],[17.2,-6.7],[13.7,-6.8],[14,-6.85],[12.8,-6.8],[17.4,-6.85],[13.1,-7],[14.4,-7],[17.3,-7.05],[16.6,-7.15],[17.4,-7.2],[13.8,-7.25],[14.2,-7.3],[17.8,-7.35],[17.9,-7.4],[15,-7.5],[14.9,-7.6],[13.3,-7.6],[16.1,-7.6],[15.9,-7.8],[16.5,-7.75],[17.1,-8.2]];

const denPd = [[-19.6,6.53],[-19.55,6.5],[-13.4,5.7],[-13.3,5.72],[-12.4,5.5],[-12.3,5.55],[-11.9,5.97],[-17.1,5.65],[-16.6,5.6],[-16.4,5.45],[-17,5.3],[-14.6,5.4],[-13.5,5.1],[-12.9,5.2],[-12.1,5.1],[-11.6,5.2],[-10.6,5.15],[-11,5.25],[-14.7,5],[-15.7,4.7],[-13.7,5.2],[-18,4.95],[-17.7,4.8],[-15.5,4.75],[-14.5,4.7],[-14.8,4.65],[-14.1,4.75],[-13.3,4.7],[-12.8,4.8],[-12.5,4.85],[-12,4.75],[-11.6,4.7],[-11.1,4.7],[-11,4.8],[-10.7,4.55],[-15.8,4.5],[-15.7,4.55],[-14.7,4.45],[-14.6,4.3],[-13.5,4.45],[-12.5,4.5],[-12.1,4.4],[-10.5,4.35],[-10.4,4.4],[-20,4.45],[-20,4.3],[-18.8,4.4],[-18,4.4],[-16.2,4.15],[-16.6,4],[-16.9,4],[-12.2,4.1],[-11.5,4.1],[-11.2,4.2],[-20.8,4.15],[-19.6,4.05],[-17.7,3.95],[-17.6,3.95],[-14.9,3.9],[-12.4,3.85],[-12,3.75],[-11.7,3.65],[-11,3.7],[-10.4,3.8],[-10,3.75],[-20.9,3.85],[-21.3,3.75],[-22.7,3.75],[-19.7,3.75],[-13.7,3.75],[-13.1,3.75],[-12.9,3.75],[-11.5,3.6],[-11,3.5],[-10.5,3.5],[-9.9,3.55],[-8.7,3.4],[-21.5,3.4],[-20.3,3.4],[-20,3.4],[-21.1,3.25],[-18.9,3.25],[-18.1,3.35],[-17,3.3],[-15.5,3.35],[-15.1,3.4],[-13.9,3.35],[-13.5,3.2],[-11.9,3.3],[-11.2,3.3],[-10.6,3.3],[-10,3.2],[-18.3,3],[-17.7,3.05],[-19.3,2.9],[-19.1,2.9],[-15.9,2.9],[-14.8,3],[-13.2,2.85],[-12.5,3.05],[-11.7,3],[-11,2.95],[-10.3,2.95],[-7.8,3.05],[-7.9,2.9],[-17.9,2.8],[-12.2,2.75],[-10.5,2.65],[-22.3,2.55],[-21.7,2.5],[-21.3,2.45],[-21,2.65],[-19.8,2.65],[-19.2,2.6],[-16.4,2.45],[-15.8,2.45],[-12,2.5],[-11.5,2.5],[-9.8,2.45],[-8.8,2.35],[-8.6,2.35],[-8.1,2.4],[-22.9,2.3],[-22,2.3],[-21.4,2.3],[-20.8,2.35],[-18.7,2.25],[-14.9,2.25],[-14.7,2.2],[-12.8,2.3],[-12.4,2.25],[-11.4,2.2],[-10.1,2.25],[-13.7,2.15],[-16.6,2.1],[-18.1,2],[-21.9,1.95],[-17.1,1.9],[-16.7,1.95],[-15.9,1.95],[-15.4,1.9],[-11.6,2],[-11.3,1.95],[-10.6,2],[-23.1,1.8],[-21.8,1.8],[-20.7,1.8],[-20,1.85],[-19,1.7],[-17.7,1.9],[-16.8,1.75],[-16.3,1.7],[-14.7,1.85],[-13.7,1.7],[-12.9,1.8],[-12.7,1.85],[-9.5,1.8],[-23.5,1.65],[-22,1.7],[-19.6,1.6],[-16.9,1.5],[-16.1,1.6],[-11.9,1.55],[-11.4,1.5],[-10.7,1.45],[-10.5,1.45],[-9.3,1.35],[-24.1,1.45],[-24.5,1.35],[-22.8,1.4],[-22.4,1.45],[-20.7,1.35],[-19.9,1.3],[-17.5,1.3],[-16.7,1.35],[-15.1,1.3],[-14.7,1.3],[-13.6,1.3],[-12.6,1.15],[-10.1,1.2],[-24.7,1.25],[-21.8,1.3],[-21.5,1.1],[-20.8,1.05],[-18.4,1.15],[-14.9,1],[-15.6,0.9],[-14.1,1],[-13.1,1.1],[-12,0.95],[-11.8,0.95],[-11.5,1.05],[-9.6,0.9],[-25,0.9],[-24.6,0.9],[-22.5,0.95],[-20.9,1],[-19.8,0.85],[-18.3,0.8],[-17.8,0.8],[-17.2,0.8],[-16.5,0.7],[-14.9,0.6],[-15.3,0.6],[-23.4,0.65],[-23.2,0.7],[-22.2,0.7],[-21.9,0.75],[-20.8,0.65],[-19.8,0.55],[-16.9,0.65],[-12.7,0.55],[-11.1,0.7],[-10.6,0.7],[-9.4,0.7],[-24,0.45],[-23.7,0.45],[-23.3,0.3],[-20.7,0.3],[-19.3,0.35],[-18.8,0.4],[-18.5,0.15],[-18.2,0.15],[-17.1,0.3],[-16.3,0.45],[-15.2,0.25],[-14.9,0.2],[-14.1,0.4],[-13.7,0.4],[-14.4,0.1],[-12.3,0.15],[-11.8,0.05],[-10.5,0.25],[-10.1,0.15],[-22.8,-0.15],[-21.8,-0.05],[-20.7,-0.05],[-19.9,-0.15],[-17.8,-0.05],[-17.5,-0.1],[-16.5,0],[-15.5,-0.1],[-14.6,-0.05],[-14.4,-0.2],[-9.5,-0.05],[-10.9,-0.15],[-11.3,-0.2],[-13.4,-0.4],[-12.8,-0.35],[-8.7,-0.35],[-22.7,-0.45],[-20.5,-0.45],[-19.2,-0.5],[-18.8,-0.45],[-15.9,-0.35],[-15.5,-0.4],[-14.9,-0.35],[-13.9,-0.35],[-16.9,-0.7],[-16.6,-0.55],[-16.5,-0.5],[-15.8,-0.65],[-15.4,-0.7],[-13.2,-0.5],[-23.9,-0.75],[-23.3,-0.75],[-22.2,-0.75],[-19.3,-0.7],[-18.9,-0.65],[-18.5,-0.8],[-17.1,-0.95],[-15.2,-0.85],[-14.8,-0.95],[-14.7,-1],[-12.6,-0.85],[-11.9,-0.85],[-22.9,-0.95],[-21.8,-0.95],[-21.1,-1.05],[-20.8,-1.1],[-20.4,-1.15],[-20.3,-1.1],[-18.6,-1.05],[-17.5,-1.1],[-17.1,-1.2],[-16.6,-1.2],[-16.1,-1.2],[-15,-1.2],[-12.3,-1.2],[-12.5,-1.25],[-13.8,-1.25],[-24,-1.1],[-21.5,-1.25],[-21,-1.2],[-19,-1.35],[-18.4,-1.35],[-23,-1.3],[-22.1,-1.55],[-20.4,-1.5],[-17.2,-1.4],[-17.5,-1.6],[-16.2,-1.55],[-15.9,-1.7],[-15.7,-1.7],[-14.8,-1.75],[-13.8,-1.75],[-12.4,-1.55],[-11.9,-1.5],[-11,-1.65],[-10.5,-1.55],[-22.1,-1.8],[-21.7,-1.85],[-20.4,-1.8],[-19.9,-1.8],[-17.7,-1.8],[-16.7,-1.9],[-15.6,-1.9],[-15.8,-2],[-11.9,-1.9],[-24,-1.95],[-23.7,-1.95],[-21.9,-1.95],[-19.9,-1.95],[-18,-1.9],[-17,-1.9],[-14.7,-2.05],[-13.9,-2.05],[-13.2,-2.05],[-12.7,-2],[-20.2,-2.2],[-16.4,-2.2],[-20.1,-2.35],[-19.9,-2.4],[-18.4,-2.45],[-23.6,-2.45],[-21.8,-2.4],[-15.2,-2.5],[-12.5,-2.45],[-14.7,-2.65],[-14,-2.55],[-13.5,-2.55],[-21.9,-2.7],[-20.4,-2.75],[-19.5,-2.75],[-21.3,-2.95],[-17.6,-2.8],[-16,-2.9],[-15.4,-2.85],[-15.2,-2.8],[-23.5,-3],[-23.2,-3],[-23,-3.25],[-22.7,-3.05],[-20.7,-3.05],[-19.9,-2.95],[-19.5,-3],[-18.7,-3.05],[-15.5,-3.1],[-14.8,-3],[-21,-3.2],[-20.9,-3.3],[-15.5,-3.2],[-14.9,-3.25],[-16.5,-3.3],[-22.7,-3.6],[-22.4,-3.8],[-22.6,-3.75],[-19.9,-3.55],[-18.7,-3.55],[-20.4,-3.85],[-20.2,-3.8],[-12.1,-3.7],[-12,-3.9],[-11.5,-4.05],[-18.8,-4.05],[-18.6,-4.1],[-11.9,-4.3],[-17.1,-4.45],[-20.7,-4.45],[-20.1,-4.45],[-11.9,-4.45],[-11.5,-4.55],[-10.9,-4.7],[-16.9,-4.6],[-21.2,-4.7],[-19.7,-4.7],[-17.4,-4.85],[-16.9,-4.85],[-20,-4.9],[-17.4,-5.05],[-22.6,-5.05],[-22.3,-5.2],[-22.2,-5.3],[-21.5,-5],[-20.3,-5.05],[-18.7,-5.1],[-17.6,-5.2],[-20.5,-5.3],[-21.9,-5.45],[-20.7,-5.5],[-19,-5.4],[-18.5,-5.5],[-18.8,-5.5],[-16.5,-5.4],[-20.1,-5.7],[-19.4,-6.25],[-19,-6.55],[-18.6,-6.6],[-18.5,-6.65],[-16,-6.45],[-15.9,-6.5],[-15.7,-7.05],[-15.6,-7.15],[-15.9,-7.2],[-16.1,-7.2],[-15.5,-7.15],[-16.6,-7.35],[-16.9,-7.45],[-16.7,-7.5],[-16.6,-7.45],[-17,-7.55],[-16.8,-7.5]];

const svgNS = "http://www.w3.org/2000/svg";
const fig = document.getElementById("fig");

function make(tag, attrs, parent) {
  const el = document.createElementNS(svgNS, tag);
  for (const k in attrs) el.setAttribute(k, attrs[k]);
  parent.appendChild(el);
  return el;
}

function drawPanel(p) {
  const g = make("g", {}, fig);
  
  
  const xScale = v => p.x0 + v * p.xu;
  const yScale = v => p.y0 - v * p.yu;

  p.xTicks.forEach((v, i) => {
    const line = make("line", {x1: xScale(v), x2: xScale(v), y1: p.top, y2: p.bottom, stroke: "#ececec", "stroke-width": 2}, g);
    
    
  });
  p.yTicks.forEach((v, i) => {
    const line = make("line", {x1: p.left, x2: p.right, y1: yScale(v), y2: yScale(v), stroke: "#ececec", "stroke-width": 2}, g);
    
    
  });

  const drawSeries = (pts, color, name) => {
    pts.forEach(pt => {
      const c = make("circle", {cx: xScale(pt[0]), cy: yScale(pt[1]), r: 9.6, fill: color, "fill-opacity": 0.7, stroke: "#1a1a1a", "stroke-opacity": 0.7, "stroke-width": 1.2}, g);
      
      
    });
  };
  drawSeries(p.hc, "#377eb8", "hc-point");
  drawSeries(p.pd, "#e41a1c", "pd-point");

  const frame = make("rect", {x: p.left, y: p.top, width: p.right - p.left, height: p.bottom - p.top, fill: "none", stroke: "#262626", "stroke-width": 2.8}, g);
  
  

  p.xTicks.forEach((v, i) => {
    const t = make("line", {x1: xScale(v), x2: xScale(v), y1: p.bottom, y2: p.bottom + 8, stroke: "#262626", "stroke-width": 2.2}, g);
    
    
    const lab = make("text", {x: xScale(v), y: p.bottom + 38, "text-anchor": "middle", "font-size": 24}, g);
    lab.textContent = p.xLabels[i];
    
    
  });
  p.yTicks.forEach((v, i) => {
    const t = make("line", {x1: p.left - 8, x2: p.left, y1: yScale(v), y2: yScale(v), stroke: "#262626", "stroke-width": 2.2}, g);
    
    
    const lab = make("text", {x: p.tickRight, y: yScale(v) + 8.5, "text-anchor": "end", "font-size": 24}, g);
    lab.textContent = p.yLabels[i];
    
    
  });

  const xt = make("text", {x: p.xlabelX, y: p.xlabelY, "text-anchor": "middle", "font-size": 29.3}, g);
  xt.textContent = "t-SNE Component 1";
  
  
  const yt = make("text", {x: 0, y: 0, "text-anchor": "middle", "font-size": 29.3, transform: "translate(" + p.ylabelX + " " + p.ylabelY + ") rotate(-90)"}, g);
  yt.textContent = "t-SNE Component 2";
  
  

  const lg = make("g", {}, g);
  
  
  const box = make("rect", {x: p.legX, y: p.legY, width: p.legW, height: 85, rx: 5, fill: "#fff", "fill-opacity": 0.85, stroke: "#d6d6d6", "stroke-width": 2}, lg);
  
  
  [["HC", "#377eb8", 24], ["PD", "#e41a1c", 63]].forEach(e => {
    const m = make("circle", {cx: p.legX + 36, cy: p.legY + e[2], r: 9.4, fill: e[1], "fill-opacity": 0.7, stroke: "#1a1a1a", "stroke-opacity": 0.7, "stroke-width": 1.2}, lg);
    
    
    const tx = make("text", {x: p.legX + 85, y: p.legY + e[2] + 7.5, "font-size": 24}, lg);
    tx.textContent = e[0];
    
    
  });

  const cap = make("text", {x: p.capX, y: 972, "font-size": 70, textLength: p.capW, lengthAdjust: "spacingAndGlyphs", class: "cap"}, g);
  
  
  cap.appendChild(document.createTextNode("("));
  const bold = make("tspan", {"font-weight": "bold"}, cap);
  bold.textContent = p.capLetter;
  cap.appendChild(document.createTextNode(") " + p.capText));
}

drawPanel({id: "efficientnet", left: 105, right: 1161, top: 11, bottom: 800, x0: 591.5, xu: 27.05, y0: 397.7, yu: 57.94,
  xTicks: effXTicks, xLabels: effXLabels, yTicks: effYTicks, yLabels: effYLabels, hc: effHc, pd: effPd,
  tickRight: 85, xlabelX: 633, xlabelY: 876, ylabelX: 34, ylabelY: 407,
  legX: 1017, legY: 24.5, legW: 131, capX: 304, capW: 570, capLetter: "a", capText: "EfficientNet-B2"});
drawPanel({id: "resnet", left: 1454, right: 2510.5, top: 11.5, bottom: 800, x0: 1990.6, xu: 17.18, y0: 377.8, yu: 39.96,
  xTicks: resXTicks, xLabels: resXLabels, yTicks: resYTicks, yLabels: resYLabels, hc: resHc, pd: resPd,
  tickRight: 1434, xlabelX: 1982, xlabelY: 876, ylabelX: 1343, ylabelY: 407,
  legX: 2367, legY: 24.5, legW: 130, capX: 1709, capW: 425, capLetter: "b", capText: "ResNet-50"});
drawPanel({id: "densenet", left: 2785, right: 3815, top: 23, bottom: 791, x0: 3330, xu: 20.25, y0: 367.5, yu: 47.2,
  xTicks: denXTicks, xLabels: denXLabels, yTicks: denYTicks, yLabels: denYLabels, hc: denHc, pd: denPd,
  tickRight: 2766, xlabelX: 3299, xlabelY: 865, ylabelX: 2716, ylabelY: 410,
  legX: 3674.5, legY: 36, legW: 127, capX: 2991, capW: 527, capLetter: "c", capText: "DenseNet-121"});
</script>
</body>
</html>
